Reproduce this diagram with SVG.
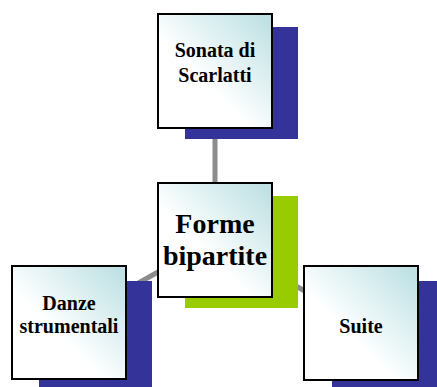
<svg xmlns="http://www.w3.org/2000/svg" width="437" height="387" viewBox="0 0 437 387">
<defs>
<linearGradient id="g" x1="0" y1="1" x2="1" y2="0">
<stop offset="0.4" stop-color="#ffffff"/>
<stop offset="0.95" stop-color="#bfe1e4"/>
</linearGradient>
</defs>
<style>
.box{fill:url(#g);stroke:#000;stroke-width:2}
.sh{fill:#333399}
.t{font-family:"Liberation Serif",serif;font-weight:bold;fill:#000;text-anchor:middle}
.c{stroke:#8c8c8c;stroke-width:5;fill:none}
</style>
<rect width="437" height="387" fill="#fff"/>
<g id="connectors">
<line class="c" x1="215" y1="240" x2="215" y2="70"/>
<line class="c" x1="215" y1="240" x2="69" y2="322"/>
<line class="c" x1="215" y1="240" x2="361" y2="323"/>
</g>
<g id="top">
<rect class="sh" x="185" y="27" width="113" height="112"/>
<rect class="box" x="158" y="14" width="114" height="114"/>
<text class="t" font-size="20"><tspan x="215" y="57">Sonata di</tspan><tspan x="215" y="82">Scarlatti</tspan></text>
</g>
<g id="left">
<rect class="sh" x="39" y="281" width="113" height="106"/>
<rect class="box" x="12" y="266" width="114" height="113"/>
<text class="t" font-size="20"><tspan x="69" y="310">Danze</tspan><tspan x="69" y="333">strumentali</tspan></text>
</g>
<g id="right">
<rect class="sh" x="332" y="281" width="105" height="106"/>
<rect class="box" x="304" y="266" width="114" height="114"/>
<text class="t" font-size="20" x="361" y="333">Suite</text>
</g>
<g id="center">
<rect fill="#99cc00" x="185" y="196" width="113" height="112"/>
<rect class="box" x="158" y="183" width="114" height="114"/>
<text class="t" font-size="28"><tspan x="215" y="233">Forme</tspan><tspan x="215" y="265">bipartite</tspan></text>
</g>
</svg>
